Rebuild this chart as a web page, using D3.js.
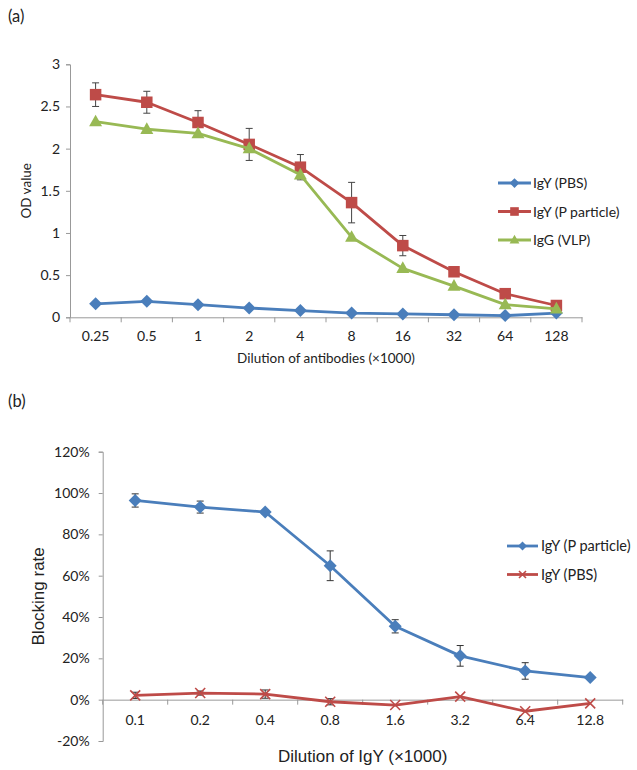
<!DOCTYPE html>
<html><head><meta charset="utf-8">
<script src="https://cdn.jsdelivr.net/npm/d3@7"></script>
<style>body{margin:0;background:#fff}svg{display:block}text{fill:#222}</style>
</head><body>
<svg id="c" width="637" height="770"></svg>
<script>
// ---- Data (a)
const catsA = ["0.25","0.5","1","2","4","8","16","32","64","128"];
const pbsA = [0.16,0.19,0.15,0.11,0.08,0.05,0.04,0.03,0.02,0.05];
const ppA = [2.64,2.55,2.31,2.05,1.78,1.36,0.85,0.54,0.28,0.14];
const ppErrA = [0.14,0.13,0.14,0.19,0.15,0.24,0.12,0,0,0];
const vlpA = [2.32,2.23,2.18,2.0,1.69,0.95,0.58,0.37,0.15,0.10];
const yTicksA = [0,0.5,1,1.5,2,2.5,3];
const namesA = ["IgY (PBS)","IgY (P particle)","IgG (VLP)"];
// ---- Data (b)
const catsB = ["0.1","0.2","0.4","0.8","1.6","3.2","6.4","12.8"];
const ppB = [0.964,0.932,0.908,0.648,0.355,0.212,0.139,0.107];
const ppErrB = [0.032,0.029,0.01,0.072,0.032,0.05,0.04,0];
const pbsB = [0.021,0.032,0.027,-0.01,-0.026,0.015,-0.056,-0.018];
const pbsErrB = [0.015,0.01,0.02,0.015,0,0,0,0];
const yTicksB = [-0.2,0,0.2,0.4,0.6,0.8,1.0,1.2];
const namesB = ["IgY (P particle)","IgY (PBS)"];

const blue="#4a7ebb", red="#be4b48", green="#98b954", axisC="#999";
const fontA = "Lato, 'Open Sans', sans-serif";
const svg = d3.select("#c");

function drawMarker(g, type, color, x, y, s){
  if(type==="diamond"){
    const r=s/2;
    g.append("path").attr("d",`M${x},${y-r}L${x+r},${y}L${x},${y+r}L${x-r},${y}Z`).attr("fill",color);
  } else if(type==="square"){
    g.append("rect").attr("x",x-s/2).attr("y",y-s/2).attr("width",s).attr("height",s).attr("fill",color);
  } else if(type==="triangle"){
    const h=s*0.9;
    g.append("path").attr("d",`M${x},${y-h*0.6}L${x+s/2},${y+h*0.4}L${x-s/2},${y+h*0.4}Z`).attr("fill",color);
  } else if(type==="x"){
    const r=s/2;
    g.append("path").attr("d",`M${x-r},${y-r}L${x+r},${y+r}M${x-r},${y+r}L${x+r},${y-r}`).attr("stroke",color).attr("stroke-width",1.6);
  }
}
const pct = v => Math.round(v*100) + "%";

// ================= Chart (a)
{
  const L=70,R=582,T=64.3,B=317.3;
  const x=d3.scaleBand().domain(catsA).range([L,R]);
  const y=d3.scaleLinear().domain([0,3]).range([B,T]);
  const g=svg.append("g");
  svg.append("text").attr("x",8).attr("y",22).attr("font-family",fontA).attr("font-size",16.5).text("(a)");
  const xa=g.append("g").attr("transform",`translate(0,${B})`).call(d3.axisBottom(x).tickSize(0).tickPadding(14));
  xa.select(".domain").attr("stroke",axisC);
  xa.selectAll("text").attr("font-family",fontA).attr("font-size",14).attr("fill","#222");
  g.selectAll(".xtA").data(d3.range(catsA.length+1)).join("line")
   .attr("x1",i=>L+i*x.step()).attr("x2",i=>L+i*x.step()).attr("y1",B).attr("y2",B+5).attr("stroke",axisC);
  const ya=g.append("g").attr("transform",`translate(${L},0)`).call(d3.axisLeft(y).tickValues(yTicksA).tickSize(4).tickPadding(6).tickFormat(d3.format("")));
  ya.select(".domain").attr("stroke",axisC);
  ya.selectAll("line").attr("stroke",axisC);
  ya.selectAll("text").attr("font-family",fontA).attr("font-size",14).attr("fill","#222");
  svg.append("text").attr("transform",`translate(31,${(T+B)/2}) rotate(-90)`).attr("text-anchor","middle")
    .attr("font-family",fontA).attr("font-size",13.5).text("OD value");
  svg.append("text").attr("x",(L+R)/2).attr("y",363).attr("text-anchor","middle")
    .attr("font-family",fontA).attr("font-size",13.5).text("Dilution of antibodies (×1000)");
  const cx=d=>x(d)+x.bandwidth()/2;
  const line=d3.line();
  const series=[{v:pbsA,c:blue,m:"diamond",s:13,e:null},{v:ppA,c:red,m:"square",s:11.5,e:ppErrA},{v:vlpA,c:green,m:"triangle",s:13,e:null}];
  series.forEach(sr=>{ if(!sr.e) return;
    sr.e.forEach((e,i)=>{ if(!e) return; const X=cx(catsA[i]);
      const y1=y(sr.v[i]+e), y2=y(sr.v[i]-e);
      g.append("path").attr("d",`M${X},${y1}V${y2}M${X-3.5},${y1}H${X+3.5}M${X-3.5},${y2}H${X+3.5}`).attr("stroke","#444").attr("stroke-width",1).attr("fill","none");
    });
  });
  series.forEach(sr=>{
    g.append("path").attr("d",line(sr.v.map((v,i)=>[cx(catsA[i]),y(v)]))).attr("fill","none").attr("stroke",sr.c).attr("stroke-width",2.8).attr("stroke-linejoin","round");
    sr.v.forEach((v,i)=>drawMarker(g,sr.m,sr.c,cx(catsA[i]),y(v),sr.s));
  });
  const ly=[183,211.5,240];
  series.forEach((sr,k)=>{
    g.append("line").attr("x1",498).attr("x2",531).attr("y1",ly[k]).attr("y2",ly[k]).attr("stroke",sr.c).attr("stroke-width",2.8);
    drawMarker(g,sr.m,sr.c,514.5,ly[k],sr.s*0.75);
    g.append("text").attr("x",533).attr("y",ly[k]+5).attr("font-family",fontA).attr("font-size",14).text(namesA[k]);
  });
}

// ================= Chart (b)
{
  const L=102.7,R=622.7;
  const y=d3.scaleLinear().domain([-0.2,1.2]).range([741,451.7]);
  const x=d3.scaleBand().domain(catsB).range([L,R]);
  const g=svg.append("g");
  svg.append("text").attr("x",8).attr("y",407).attr("font-family",fontA).attr("font-size",16.5).text("(b)");
  const Y0=y(0);
  const xa=g.append("g").attr("transform",`translate(0,${Y0})`).call(d3.axisBottom(x).tickSize(0).tickPadding(15));
  xa.select(".domain").attr("stroke",axisC);
  xa.selectAll("text").attr("font-family",fontA).attr("font-size",14).attr("fill","#222");
  g.selectAll(".xtB").data(d3.range(catsB.length+1)).join("line")
   .attr("x1",i=>L+i*x.step()).attr("x2",i=>L+i*x.step()).attr("y1",Y0).attr("y2",Y0+5).attr("stroke",axisC);
  const ya=g.append("g").attr("transform",`translate(${L},0)`).call(d3.axisLeft(y).tickValues(yTicksB).tickSize(4).tickPadding(9).tickFormat(pct));
  ya.select(".domain").attr("stroke",axisC);
  ya.selectAll("line").attr("stroke",axisC);
  ya.selectAll("text").attr("font-family",fontA).attr("font-size",14).attr("fill","#222");
  svg.append("text").attr("transform",`translate(44,${y(0.5)}) rotate(-90)`).attr("text-anchor","middle")
    .attr("font-family","'Liberation Sans', Arial, sans-serif").attr("font-size",17).text("Blocking rate");
  svg.append("text").attr("x",(L+R)/2).attr("y",762).attr("text-anchor","middle")
    .attr("font-family","'Liberation Sans', Arial, sans-serif").attr("font-size",17).text("Dilution of IgY (×1000)");
  const cx=d=>x(d)+x.bandwidth()/2;
  const line=d3.line();
  const series=[{v:ppB,c:blue,m:"diamond",s:13,e:ppErrB},{v:pbsB,c:red,m:"x",s:10,e:pbsErrB}];
  series.forEach(sr=>{
    sr.e.forEach((e,i)=>{ if(!e) return; const X=cx(catsB[i]);
      const y1=y(sr.v[i]+e), y2=y(sr.v[i]-e);
      g.append("path").attr("d",`M${X},${y1}V${y2}M${X-3.5},${y1}H${X+3.5}M${X-3.5},${y2}H${X+3.5}`).attr("stroke","#333").attr("stroke-width",1).attr("fill","none");
    });
  });
  series.forEach(sr=>{
    g.append("path").attr("d",line(sr.v.map((v,i)=>[cx(catsB[i]),y(v)]))).attr("fill","none").attr("stroke",sr.c).attr("stroke-width",2.8).attr("stroke-linejoin","round");
    sr.v.forEach((v,i)=>drawMarker(g,sr.m,sr.c,cx(catsB[i]),y(v),sr.s));
  });
  const ly=[546,574.5];
  series.forEach((sr,k)=>{
    g.append("line").attr("x1",507).attr("x2",538).attr("y1",ly[k]).attr("y2",ly[k]).attr("stroke",sr.c).attr("stroke-width",2.8);
    drawMarker(g,sr.m,sr.c,522.5,ly[k],sr.s*0.7);
    g.append("text").attr("x",541).attr("y",ly[k]+5).attr("font-family",fontA).attr("font-size",14.5).text(namesB[k]);
  });
}
</script>
</body></html>
